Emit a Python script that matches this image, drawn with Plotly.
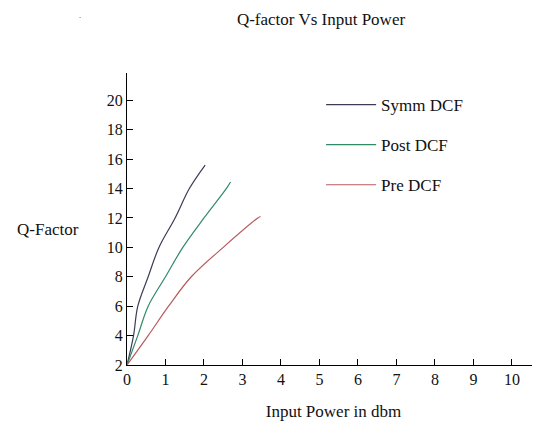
import plotly.graph_objects as go

# Data
symm_x = [0.0, 0.17, 0.28, 0.55, 0.83, 1.25, 1.62, 2.03]
symm_y = [2.0, 4.0, 6.0, 8.0, 10.0, 12.0, 14.0, 15.6]

post_x = [0.0, 0.28, 0.55, 1.0, 1.45, 2.0, 2.58, 2.69]
post_y = [2.0, 4.0, 6.0, 8.0, 10.0, 12.0, 14.0, 14.45]

pre_x = [0.0, 0.55, 1.08, 1.67, 2.5, 3.4, 3.47]
pre_y = [2.0, 4.0, 6.0, 8.0, 10.0, 12.0, 12.1]

series_names = ["Symm DCF", "Post DCF", "Pre DCF"]
series_colors = ["#3b3b55", "#2f8a66", "#b85a5a"]

x_ticks = list(range(0, 11))
y_ticks = list(range(2, 21, 2))

FONT = "Liberation Serif, Times New Roman, serif"
OFF = 8  # page body margin of the browser

fig = go.Figure()
for i, (xs, ys) in enumerate([(symm_x, symm_y), (post_x, post_y), (pre_x, pre_y)]):
    fig.add_trace(go.Scatter(
        x=xs, y=ys, mode="lines", name=series_names[i],
        line=dict(color=series_colors[i], width=1.2, shape="spline", smoothing=1.0),
        legendgroup=f"g{i}",
    ))

W, H = 540 - OFF, 421 - OFF
T = 73 - OFF
fig.update_layout(
    width=W, height=H,
    margin=dict(l=127 - OFF, r=0, t=T, b=56),
    paper_bgcolor="white", plot_bgcolor="white",
    font=dict(family=FONT, color="#111111", size=16),
    showlegend=True,
    legend=dict(
        x=0.47, y=0.952, xanchor="left", yanchor="top",
        bgcolor="rgba(0,0,0,0)", font=dict(size=17, family=FONT),
        itemwidth=50, tracegroupgap=15,
    ),
    title=dict(text="Q-factor Vs Input Power", x=(321 - OFF) / W, xanchor="center",
               y=1 - (19 - OFF) / H, yanchor="middle", font=dict(size=17, family=FONT)),
    xaxis=dict(
        range=[0, 10.73], tickvals=x_ticks, ticks="inside", ticklen=6, tickcolor="black",
        showline=True, linecolor="black", linewidth=1, showgrid=False, zeroline=False,
        tickfont=dict(size=16, family=FONT),
        title=dict(text="Input Power in dbm", font=dict(size=17, family=FONT), standoff=17),
    ),
    yaxis=dict(
        range=[2, 21.86], tickvals=y_ticks, ticks="inside", ticklen=6, tickcolor="black",
        showline=True, linecolor="black", linewidth=1, showgrid=False, zeroline=False,
        tickfont=dict(size=16, family=FONT),
    ),
    annotations=[
        dict(text="Q-Factor", xref="paper", yref="paper", x=(15 - 127) / 413, y=(365 - 229) / 292,
             xanchor="left", yanchor="middle", showarrow=False, font=dict(size=17, family=FONT)),
        dict(text=".", xref="paper", yref="paper", x=(80 - 127) / 413, y=1 + (T - 1) / 292,
             xanchor="center", yanchor="top", showarrow=False, font=dict(size=8, family=FONT)),
    ],
)

fig.write_html("out.html")
